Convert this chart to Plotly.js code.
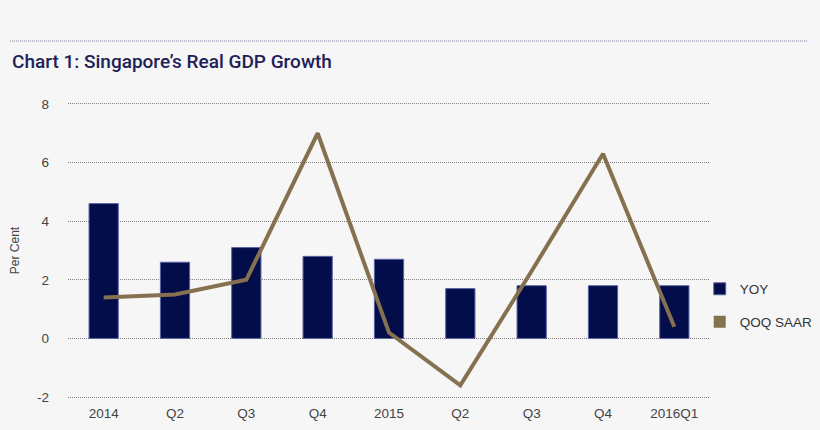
<!DOCTYPE html>
<html>
<head>
<meta charset="utf-8">
<script src="https://cdn.plot.ly/plotly-3.0.1.min.js"></script>
<style>
html,body{margin:0;padding:0;background:#f6f6f6;}
#chart{width:820px;height:430px;}
</style>
</head>
<body>
<div id="chart"></div>
<script>
var categories = ["2014", "Q2", "Q3", "Q4", "2015", "Q2", "Q3", "Q4", "2016Q1"];
var yoy = [4.6, 2.6, 3.1, 2.8, 2.7, 1.7, 1.8, 1.8, 1.8];
var qoqSaar = [1.4, 1.5, 2.0, 7.0, 0.2, -1.6, 2.3, 6.3, 0.4];
var yTicks = [-2, 0, 2, 4, 6, 8];

var xIdx = categories.map(function (_, i) { return i; });

var navy = "#030d4a";
var gold = "#857150";

var traces = [
  {
    type: "bar", name: "YOY", x: xIdx, y: yoy, width: 0.41,
    marker: {color: navy, line: {color: "#5a64a6", width: 1}},
    legend: "legend", hoverinfo: "y"
  },
  {
    type: "scatter", mode: "lines", name: "QOQ SAAR", x: xIdx, y: qoqSaar,
    line: {color: gold, width: 4}, showlegend: false, hoverinfo: "y"
  },
  {
    type: "scatter", mode: "markers", name: "QOQ SAAR", x: [null], y: [null],
    marker: {color: gold, symbol: "square", size: 12},
    legend: "legend2", hoverinfo: "skip"
  }
];

var font = "'Liberation Sans', Arial, Helvetica, sans-serif";

var layout = {
  width: 820, height: 430,
  paper_bgcolor: "#f6f6f6", plot_bgcolor: "#f6f6f6",
  margin: {l: 68, r: 110, t: 101, b: 30, autoexpand: false},
  font: {family: font, size: 13, color: "#444"},
  title: {
    text: "Chart 1: Singapore\u2019s Real GDP Growth",
    font: {family: "Roboto, " + font, size: 19, color: "#1c2157", weight: 500},
    xref: "container", yref: "container",
    x: 12 / 820, xanchor: "left", y: 1 - 61 / 430, yanchor: "middle"
  },
  xaxis: {
    range: [-0.5, 8.5], tickvals: xIdx, ticktext: categories,
    showgrid: false, zeroline: false, showline: false, ticks: "",
    ticklabelstandoff: 3, tickfont: {size: 13.5, color: "#444"}, fixedrange: true
  },
  yaxis: {
    range: [-2.1, 8.1], tickvals: yTicks, ticktext: yTicks.map(String),
    showgrid: true, gridcolor: "#808080", griddash: "1px,1px", gridwidth: 1,
    zeroline: false, showline: false, ticks: "",
    ticklabelstandoff: 18, tickfont: {size: 13.5, color: "#444"},
    title: {text: "Per Cent", font: {size: 12, color: "#444"}, standoff: 14},
    fixedrange: true
  },
  showlegend: true,
  legend: {
    x: 0.984, xanchor: "left", y: (397 - 289 + 3) / 299, yanchor: "middle",
    bgcolor: "rgba(0,0,0,0)", font: {size: 13.5, color: "#333"}
  },
  legend2: {
    x: 0.984, xanchor: "left", y: (397 - 322 + 3) / 299, yanchor: "middle",
    bgcolor: "rgba(0,0,0,0)", font: {size: 13.5, color: "#333"}
  },
  shapes: [
    {
      type: "line", xref: "paper", yref: "paper",
      x0: (10 - 68) / 642, x1: (808 - 68) / 642,
      y0: (400 - 41) / 299, y1: (400 - 41) / 299,
      line: {color: "#7a82a0", width: 1, dash: "1px,1px"}
    }
  ]
};

Plotly.newPlot("chart", traces, layout, {displayModeBar: false, staticPlot: true});
</script>
</body>
</html>
